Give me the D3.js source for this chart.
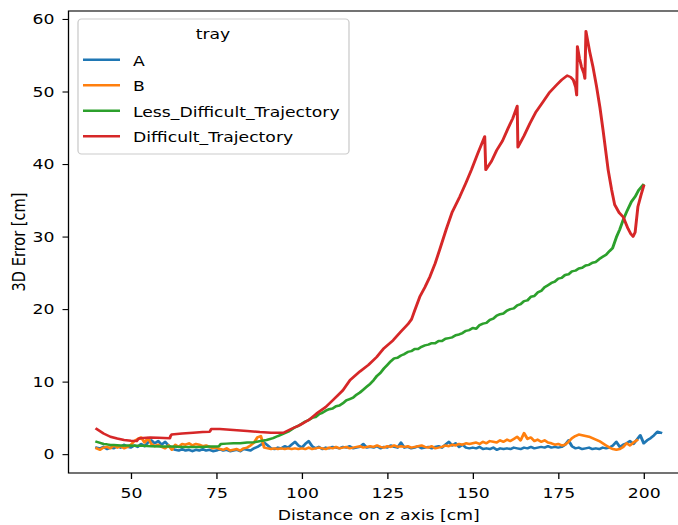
<!DOCTYPE html>
<html>
<head>
<meta charset="utf-8">
<script src="https://cdn.jsdelivr.net/npm/d3@7"></script>
<style>
  html, body { margin: 0; padding: 0; background: #fff; }
  svg { display: block; font-family: "DejaVu Sans", sans-serif; }
</style>
</head>
<body>
<svg id="chart" width="678" height="525"></svg>
<script>
// ---- data: 3D error [cm] vs distance on z axis [cm], one series per tray ----
const trays = ["A", "B", "Less_Difficult_Trajectory", "Difficult_Trajectory"];
const colors = ["#1f77b4", "#ff7f0e", "#2ca02c", "#d62728"];

const distA = [40,41,42,43,44,45,46,47,48,49,50,51,52,53,54,55,56,57,58,59,60,61,62,63,64,65,66,67,68,69,70,71,72,73,74,75,76,77,78,79,80,81,82,83,84,85,86,87,88,89,90,91,92,93,94,95,96,97,98,99,100,101,102,103,104,105,106,107,108,109,110,111,112,113,114,115,116,117,118,119,120,121,122,123,124,125,126,127,128,129,130,131,132,133,134,135,136,137,138,139,140,141,142,143,144,145,146,147,148,149,150,151,152,153,154,155,156,157,158,159,160,161,162,163,164,165,166,167,168,169,170,171,172,173,174,175,176,177,178,179,180,181,182,183,184,185,186,187,188,189,190,191,192,193,194,195,196,197,198,199,200,201,202,203,204,205];
const errA = [
  0.9,0.8,1.0,0.7,0.9,0.8,1.1,0.9,1.3,1.0,
  0.9,1.2,1.0,1.4,1.1,1.6,1.9,1.5,1.8,1.3,
  1.7,1.2,0.8,0.6,0.5,0.7,0.5,0.6,0.4,0.6,
  0.5,0.7,0.5,0.6,0.4,0.5,0.7,0.5,0.6,0.4,
  0.5,0.6,0.4,0.7,0.6,0.5,0.8,1.0,1.3,1.6,
  1.2,0.8,0.7,0.9,0.8,1.1,0.9,1.3,1.7,1.2,
  0.9,1.4,1.8,1.1,0.8,1.0,0.7,0.9,0.8,1.0,
  0.9,0.8,1.0,0.9,1.1,0.8,0.9,1.0,1.4,0.9,
  1.0,0.9,1.1,0.8,1.0,0.9,1.2,1.0,0.9,1.6,
  0.9,1.0,0.8,0.9,1.1,0.8,0.9,1.0,0.8,1.0,
  1.1,0.9,1.3,1.7,1.2,1.5,1.0,1.3,0.9,0.8,
  0.9,0.8,1.0,0.7,0.8,0.7,0.9,0.6,0.8,0.7,
  0.8,0.7,0.9,0.8,0.7,0.9,0.8,1.0,0.8,0.9,
  1.0,0.9,1.1,0.9,1.0,0.9,1.0,1.3,1.9,1.1,
  0.8,0.9,0.7,0.8,0.9,0.7,0.8,0.7,0.9,0.8,
  0.9,1.2,1.7,1.0,1.3,1.5,1.8,1.4,2.0,2.6,
  1.5,1.9,2.2,2.6,3.1,2.95
];

const distB = [40,41,42,43,44,45,46,47,48,49,50,51,52,53,54,55,56,57,58,59,60,61,62,63,64,65,66,67,68,69,70,71,72,73,74,75,76,77,78,79,80,81,82,83,84,85,86,87,88,89,90,91,92,93,94,95,96,97,98,99,100,101,102,103,104,105,106,107,108,109,110,111,112,113,114,115,116,117,118,119,120,121,122,123,124,125,126,127,128,129,130,131,132,133,134,135,136,137,138,139,140,141,142,143,144,145,146,147,148,149,150,151,152,153,154,155,156,157,158,159,160,161,162,163,164,165,166,167,168,169,170,171,172,173,174,175,176,177,178,179,180,181,182,183,184,185,186,187,188,189,190,191,192,193,194,195,196,197,198];
const errB = [
  0.8,0.6,0.9,1.0,0.8,1.2,0.9,1.1,0.8,1.0,
  1.3,1.8,2.1,2.3,1.6,2.2,1.4,1.1,1.3,1.0,
  0.8,1.2,0.6,1.3,1.0,1.4,1.3,1.5,1.2,1.4,
  1.3,1.1,1.2,1.0,0.8,0.9,0.7,0.6,0.8,0.5,
  0.6,0.7,0.5,0.8,0.9,1.2,1.6,2.3,2.5,0.9,
  0.8,0.7,0.8,0.7,0.8,0.7,0.8,0.7,0.8,0.7,
  0.8,0.7,0.9,0.7,0.8,0.9,0.8,0.7,0.9,0.8,
  1.0,0.8,0.9,1.0,0.8,0.9,1.0,1.1,0.9,1.0,
  1.1,1.0,1.2,1.0,0.9,1.1,1.0,1.2,1.0,1.1,
  1.0,1.1,0.9,1.0,1.1,1.2,1.0,0.9,1.1,0.8,
  0.9,1.0,1.2,1.1,1.3,1.2,1.4,1.3,1.5,1.4,
  1.5,1.6,1.4,1.7,1.5,1.8,1.7,1.6,1.9,1.7,
  2.0,1.8,2.1,2.4,1.9,2.9,2.1,2.3,1.8,2.0,
  1.7,1.9,1.6,1.5,1.3,1.4,1.2,1.3,1.7,2.2,
  2.5,2.7,2.6,2.5,2.4,2.2,2.0,1.8,1.5,1.2,
  0.9,0.7,0.6,0.7,1.0,1.5,1.2,1.6,1.9
];

const distLess = [40,41,42,43,44,45,47,49,51,53.5,56,59,62,65,68.2,71,73,75,75.8,76.3,78,80,82,84,86,88,89.7,91.6,93,95,
  96,97,98,99,100,101,102,103,104,105,106,107,108,109,110,111,112,113,114,115,116,117,118,119,120,121,122,123,124,125,126,127,128,129,130,131,132,133,134,135,136,137,138,139,140,141,142,143,144,145,146,147,148,149,150,151,152,153,154,155,156,157,158,159,160,161,162,163,164,165,166,167,168,169,170,171,172,173,174,175,176,177,178,179,180,181,182,183,184,185,186,187,188,189,190,
  190.9,192,193,194,195,196.4,197.5,198.5,199.8];
const errLess = [1.7,1.55,1.4,1.35,1.25,1.25,1.2,1.2,1.15,1.15,1.1,1.05,1.05,1.0,1.0,1.0,1.05,1.05,1.1,1.4,1.45,1.5,1.5,1.6,1.65,1.8,1.95,2.2,2.5,2.9,
  3.1,3.4,3.7,3.9,4.2,4.5,4.7,5.0,5.1,5.5,5.7,6.0,6.2,6.3,6.6,6.7,7.0,7.4,7.6,7.8,8.2,8.5,8.9,9.3,9.7,10.2,10.8,11.2,11.8,12.3,12.8,13.2,13.3,13.6,13.8,14.1,14.2,14.5,14.5,14.8,15.0,15.1,15.3,15.3,15.6,15.6,15.9,16.0,16.1,16.4,16.5,16.7,17.0,17.1,17.4,17.3,17.8,18.0,18.1,18.5,18.7,19.1,19.3,19.4,19.8,20.0,20.1,20.5,20.7,21.1,21.2,21.7,21.8,22.3,22.5,23.0,23.3,23.6,23.8,24.2,24.3,24.7,24.8,25.2,25.3,25.6,25.7,26.0,26.1,26.4,26.5,26.9,27.2,27.5,28.0,
  28.4,29.9,31.0,32.3,33.4,34.8,35.5,36.4,37.1];

const distHard = [40,42,44,46,48,50,51.7,52.2,52.7,55.6,58,61.4,61.6,61.9,65,68.2,71,73.1,73.3,73.5,76,78,81,84,87.7,91,94.6,97,99.4,102,104.3,107,109.2,112,114.1,117,119.5,121.9,124,126.7,129,131,132.1,133,134.5,136,137.5,139,140.4,142.3,144,146.2,148,149.6,151.5,153.5,153.8,155.5,157,158.7,160.3,161.7,163,163.2,165,166.7,168.5,170.6,172.5,174.5,176,177.6,178.6,179.4,180.1,180.4,180.6,181.2,181.8,182.5,182.8,183.1,184.2,185.2,186.2,187.2,188.1,189.6,190.6,191.5,192.8,194,195.4,196.2,196.9,197.5,198.3,199.2,200];
const errHard = [3.45,2.85,2.4,2.15,1.95,1.85,1.8,2.1,2.2,2.3,2.25,2.2,2.5,2.7,2.85,2.95,3.05,3.1,3.3,3.46,3.45,3.4,3.3,3.2,3.05,2.95,2.95,3.5,4.0,4.7,5.6,6.5,7.5,8.8,10.2,11.4,12.3,13.4,14.6,15.7,16.9,17.9,18.6,19.8,21.7,23.0,24.5,26.3,28.3,31.1,33.4,35.5,37.4,39.2,41.5,43.8,39.2,40.4,41.9,43.2,44.9,46.3,48.0,42.3,43.9,45.6,47.2,48.6,49.9,50.9,51.6,52.2,52.0,51.6,50.6,49.5,56.2,54.6,53.4,52.5,51.8,58.3,55.5,53.3,50.7,47.8,44.7,39.2,36.5,34.4,33.3,32.7,31.1,30.4,30.0,30.6,34.1,35.7,37.0];

const xTicks = [50, 75, 100, 125, 150, 175, 200];
const yTicks = [0, 10, 20, 30, 40, 50, 60];

const series = [
  {name: trays[0], color: colors[0], x: distA, y: errA},
  {name: trays[1], color: colors[1], x: distB, y: errB},
  {name: trays[2], color: colors[2], x: distLess, y: errLess},
  {name: trays[3], color: colors[3], x: distHard, y: errHard}
];

// ---- layout ----
// The figure is laid out in a coordinate space that is stretched horizontally
// by `stretch` when displayed (wide aspect of the exported figure).
const W = 678, H = 525;
const stretch = 1.18;
const hx = v => v / stretch;          // horizontal screen px -> internal units
const svg = d3.select("#chart")
  .attr("viewBox", `0 0 ${W / stretch} ${H}`)
  .attr("preserveAspectRatio", "none");

const plot = {left: hx(68.5), right: hx(689), top: 11, bottom: 473};
const fontSize = 14.6;

const x = d3.scaleLinear().domain([31.75, 213.25]).range([plot.left, plot.right]);
const y = d3.scaleLinear().domain([-2.6, 61.1]).range([plot.bottom, plot.top]);

svg.append("defs").append("clipPath").attr("id", "plotClip")
  .append("rect")
  .attr("x", plot.left).attr("y", plot.top)
  .attr("width", plot.right - plot.left).attr("height", plot.bottom - plot.top);

// ---- lines ----
const line = d3.line().x(d => x(d[0])).y(d => y(d[1]));
const lines = svg.append("g").attr("clip-path", "url(#plotClip)");
series.forEach(s => {
  const pts = s.x.map((v, i) => [v, s.y[i]]);
  lines.append("path")
    .datum(pts)
    .attr("d", line)
    .attr("fill", "none")
    .attr("stroke", s.color)
    .attr("stroke-width", 2.5)
    .attr("stroke-linejoin", "round")
    .attr("stroke-linecap", "square");
});

// ---- axes ----
const xAxis = d3.axisBottom(x).tickValues(xTicks).tickSize(6).tickPadding(9);
const yAxis = d3.axisLeft(y).tickValues(yTicks).tickSize(hx(6)).tickPadding(hx(8));

const gx = svg.append("g").attr("transform", `translate(0,${plot.bottom})`).call(xAxis);
const gy = svg.append("g").attr("transform", `translate(${plot.left},0)`).call(yAxis);
[gx, gy].forEach(g => {
  g.select(".domain").remove();
  g.selectAll(".tick line").attr("stroke", "#000").attr("stroke-width", 1.1);
  g.selectAll(".tick text")
    .attr("fill", "#000")
    .style("font-size", fontSize + "px")
    .style("font-family", "DejaVu Sans, sans-serif");
});

// frame (spines)
svg.append("rect")
  .attr("x", plot.left).attr("y", plot.top)
  .attr("width", plot.right - plot.left).attr("height", plot.bottom - plot.top)
  .attr("fill", "none").attr("stroke", "#000").attr("stroke-width", 1.1);

// axis titles
svg.append("text")
  .attr("x", (plot.left + plot.right) / 2)
  .attr("y", 520)
  .attr("text-anchor", "middle")
  .style("font-size", fontSize + "px")
  .text("Distance on z axis [cm]");

svg.append("text")
  .attr("transform", `translate(${hx(24.5)},${(plot.top + plot.bottom) / 2}) rotate(-90)`)
  .attr("text-anchor", "middle")
  .style("font-size", fontSize + "px")
  .text("3D Error [cm]");

// ---- legend ----
const legend = svg.append("g");
legend.append("rect")
  .attr("x", hx(78)).attr("y", 19)
  .attr("width", hx(271)).attr("height", 135)
  .attr("rx", 3).attr("ry", 3.5)
  .attr("fill", "#fff").attr("fill-opacity", 0.8)
  .attr("stroke", "#cccccc").attr("stroke-width", 1.1);

legend.append("text")
  .attr("x", hx(213)).attr("y", 39)
  .attr("text-anchor", "middle")
  .style("font-size", fontSize + "px")
  .text("tray");

series.forEach((s, i) => {
  const yy = 59.7 + i * 25.5;
  legend.append("line")
    .attr("x1", hx(83)).attr("x2", hx(120))
    .attr("y1", yy).attr("y2", yy)
    .attr("stroke", s.color).attr("stroke-width", 2.5);
  legend.append("text")
    .attr("x", hx(133)).attr("y", yy + 6)
    .style("font-size", fontSize + "px")
    .text(s.name);
});
</script>
</body>
</html>
